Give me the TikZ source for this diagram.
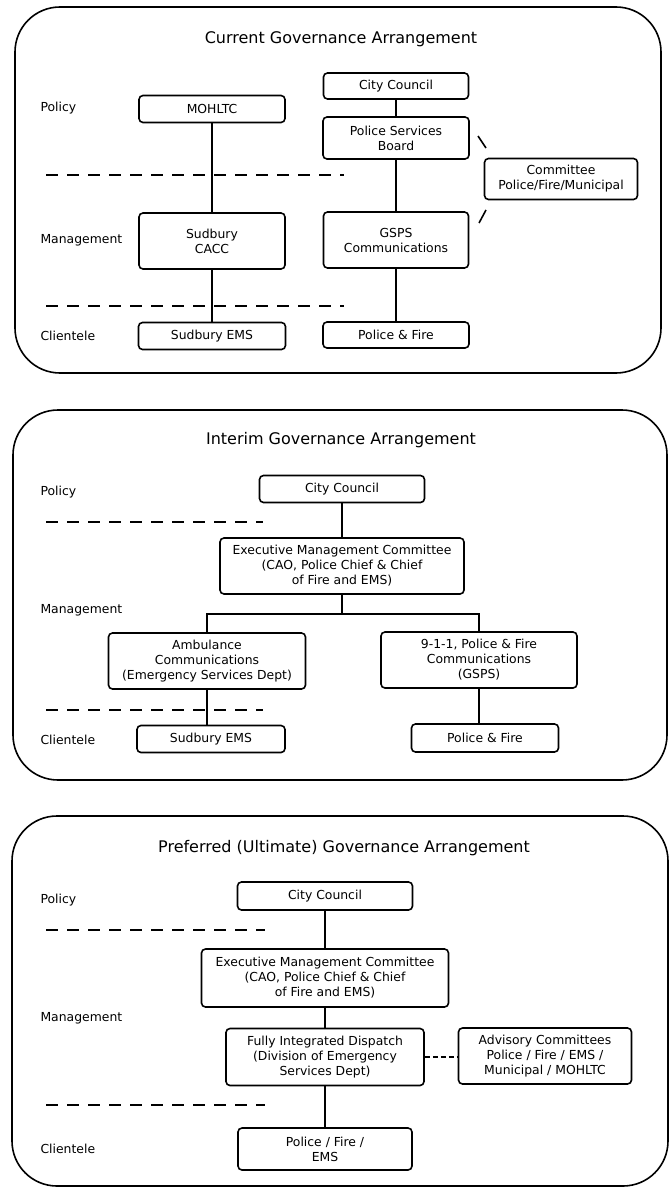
\documentclass[tikz,border=0pt]{standalone}
\usepackage{fontspec}
\setmainfont{DejaVu Sans}
\begin{document}
\begin{tikzpicture}[x=1pt,y=-1pt,
  panel/.style={draw,line width=1.6pt,rounded corners=45pt},
  box/.style={draw,line width=1.6pt,rounded corners=4pt,align=center,inner sep=1pt,
    font=\fontsize{12.4}{15}\selectfont},
  conn/.style={line width=1.6pt},
  divider/.style={line width=1.6pt,dash pattern=on 12pt off 9pt},
  lbl/.style={anchor=west,font=\fontsize{12.4}{14}\selectfont},
  ttl/.style={font=\fontsize{16}{19}\selectfont}]
\useasboundingbox (0,0) rectangle (671,1188);
% ---------------- Panel 1 ----------------
\draw[panel] (15,7) rectangle (661,373);
\node[ttl] (t1) at (341,39) {Current Governance Arrangement};
\node[lbl] (p1) at (37,108) {Policy};
\node[lbl] (m1) at (37,240) {Management};
\node[lbl] (c1) at (37,336) {Clientele};
\draw[divider] (46,175) -- (344,175);
\draw[divider] (46,306) -- (344,306);
\node[box,minimum width=145pt,minimum height=26pt] (cc1) at (396,86) {City Council};
\node[box,minimum width=146pt,minimum height=27pt] (moh) at (212,109) {MOHLTC};
\node[box,minimum width=146pt,minimum height=42pt] (psb) at (396,138) {Police Services\\Board};
\node[box,minimum width=153pt,minimum height=41pt] (com) at (561,179) {Committee\\Police/Fire/Municipal};
\node[box,minimum width=146pt,minimum height=56pt] (cacc) at (212,241) {Sudbury\\CACC};
\node[box,minimum width=145pt,minimum height=56pt] (gsps) at (396,240) {GSPS\\Communications};
\node[box,minimum width=147pt,minimum height=27pt] (ems1) at (212,336) {Sudbury EMS};
\node[box,minimum width=146pt,minimum height=26pt] (pf1) at (396,335) {Police \& Fire};
\draw[conn] (cc1) -- (psb);
\draw[conn] (psb) -- (gsps);
\draw[conn] (gsps) -- (pf1);
\draw[conn] (moh) -- (cacc);
\draw[conn] (cacc) -- (ems1);
\coordinate (s1a) at (478,136);
\coordinate (s1b) at (486,148);
\coordinate (s2a) at (479,223);
\coordinate (s2b) at (486,210);
\draw[conn] (s1a) -- (s1b);
\draw[conn] (s2a) -- (s2b);
% ---------------- Panel 2 ----------------
\draw[panel] (13,410) rectangle (667,780);
\node[ttl] (t2) at (341,440) {Interim Governance Arrangement};
\node[lbl] (p2) at (37,492) {Policy};
\node[lbl] (m2) at (37,610) {Management};
\node[lbl] (c2) at (37,740) {Clientele};
\draw[divider] (46,522) -- (263,522);
\draw[divider] (46,710) -- (263,710);
\node[box,minimum width=165pt,minimum height=27pt] (cc2) at (342,489) {City Council};
\node[box,minimum width=244pt,minimum height=56pt] (emc2) at (342,566) {Executive Management Committee\\(CAO, Police Chief \& Chief\\of Fire and EMS)};
\node[box,minimum width=197pt,minimum height=56pt] (amb) at (207,661) {Ambulance\\Communications\\(Emergency Services Dept)};
\node[box,minimum width=196pt,minimum height=56pt] (n911) at (479,660) {9-1-1, Police \& Fire\\Communications\\(GSPS)};
\node[box,minimum width=148pt,minimum height=27pt] (ems2) at (211,739) {Sudbury EMS};
\node[box,minimum width=147pt,minimum height=28pt] (pf2) at (485,738) {Police \& Fire};
\coordinate (j2) at (342,614);
\draw[conn] (cc2) -- (emc2);
\draw[conn] (emc2) -- (j2);
\draw[conn] (amb.north) |- (j2) -| (n911.north);
\draw[conn] (amb.south) -- (amb.south |- ems2.north);
\draw[conn] (n911.south) -- (n911.south |- pf2.north);
% ---------------- Panel 3 ----------------
\draw[panel] (12,816) rectangle (668,1186);
\node[ttl] (t3) at (344,848) {Preferred (Ultimate) Governance Arrangement};
\node[lbl] (p3) at (37,900) {Policy};
\node[lbl] (m3) at (37,1018) {Management};
\node[lbl] (c3) at (37,1149) {Clientele};
\draw[divider] (46,930) -- (265,930);
\draw[divider] (46,1105) -- (265,1105);
\node[box,minimum width=175pt,minimum height=28pt] (cc3) at (325,896) {City Council};
\node[box,minimum width=247pt,minimum height=58pt] (emc3) at (325,978) {Executive Management Committee\\(CAO, Police Chief \& Chief\\of Fire and EMS)};
\node[box,minimum width=198pt,minimum height=57pt] (fid) at (325,1057) {Fully Integrated Dispatch\\(Division of Emergency\\Services Dept)};
\node[box,minimum width=173pt,minimum height=56pt] (adv) at (545,1056) {Advisory Committees\\Police / Fire / EMS /\\Municipal / MOHLTC};
\node[box,minimum width=174pt,minimum height=42pt] (pfe) at (325,1149) {Police / Fire /\\EMS};
\draw[conn] (cc3) -- (emc3);
\draw[conn] (emc3) -- (fid);
\draw[conn] (fid) -- (pfe);
\draw[conn,dash pattern=on 5pt off 3pt] (fid.east) -- (adv.west |- fid.east);
\end{tikzpicture}
\end{document}
